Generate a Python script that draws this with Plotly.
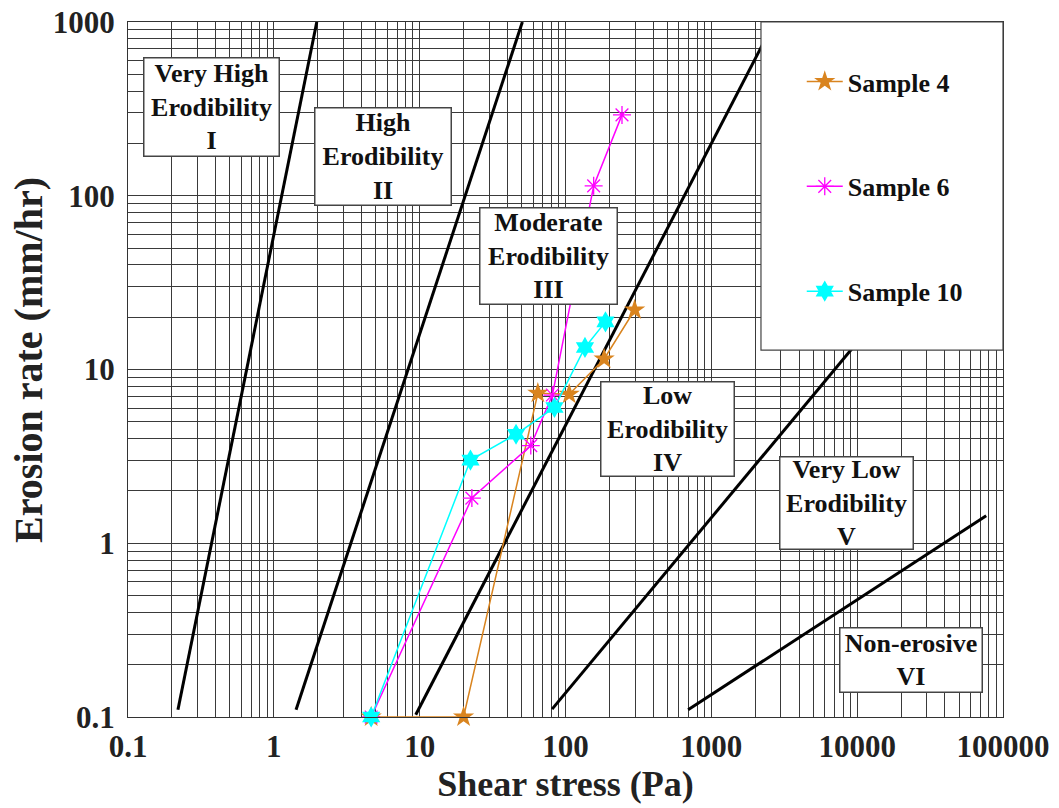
import plotly.graph_objects as go

# ---- data ----
tick_vals_x = [0.1, 1, 10, 100, 1000, 10000, 100000]
tick_text_x = ["0.1", "1", "10", "100", "1000", "10000", "100000"]
tick_vals_y = [0.1, 1, 10, 100, 1000]
tick_text_y = ["0.1", "1", "10", "100", "1000"]

# erodibility category boundaries (shear stress Pa, erosion rate mm/hr)
bound_I_x = [0.22, 1.97]
bound_I_y = [0.11, 1000]
bound_II_x = [1.42, 50.6]
bound_II_y = [0.11, 1000]
bound_III_x = [9.4, 2700]
bound_III_y = [0.103, 1000]
bound_IV_x = [80.9, 40000]
bound_IV_y = [0.111, 58]
bound_V_x = [693, 76700]
bound_V_y = [0.11, 1.44]

s4_x = [4.65, 20, 64.6, 106, 184, 298]
s4_y = [0.1, 0.1, 7.3, 7.2, 11.5, 22]
s6_x = [4.65, 22.8, 57.8, 81.3, 156, 244]
s6_y = [0.1, 1.82, 3.65, 7.13, 114, 292]
s10_x = [4.65, 22.3, 45.8, 84, 136, 188]
s10_y = [0.1, 3.01, 4.24, 6.05, 13.4, 18.8]

zone_labels = ["Very High<br>Erodibility<br>I", "High<br>Erodibility<br>II",
               "Moderate<br>Erodibility<br>III", "Low<br>Erodibility<br>IV",
               "Very Low<br>Erodibility<br>V", "Non-erosive<br>VI"]

FONT = "Liberation Serif"
GRID = "#3a3a3a"

fig = go.Figure()

for bx, by in [(bound_I_x, bound_I_y), (bound_II_x, bound_II_y), (bound_III_x, bound_III_y),
               (bound_IV_x, bound_IV_y), (bound_V_x, bound_V_y)]:
    fig.add_trace(go.Scatter(x=bx, y=by, mode="lines", line=dict(color="black", width=3),
                             showlegend=False, hoverinfo="skip"))

fig.add_trace(go.Scatter(x=s4_x, y=s4_y, name="Sample 4", mode="lines+markers", legendgroup="a",
                         line=dict(color="#D9841F", width=1.5), cliponaxis=False,
                         marker=dict(symbol="star", size=16, color="#D9841F")))
fig.add_trace(go.Scatter(x=s6_x, y=s6_y, name="Sample 6", mode="lines+markers", legendgroup="b",
                         line=dict(color="#FF00FF", width=1.5), cliponaxis=False,
                         marker=dict(symbol="asterisk-open", size=15, color="#FF00FF",
                                     line=dict(color="#FF00FF", width=1.3))))
fig.add_trace(go.Scatter(x=s10_x, y=s10_y, name="Sample 10", mode="lines+markers", legendgroup="c",
                         line=dict(color="#00FFFF", width=1.5), cliponaxis=False,
                         marker=dict(symbol="hexagram", size=16, color="#00FFFF")))

# zone label boxes: (paper x center, paper y center, width, height)
box_specs = [(0.0949, 0.877, 132, 95), (0.2909, 0.8058, 133, 94), (0.4800, 0.664, 134, 93),
             (0.6160, 0.415, 130, 91), (0.8206, 0.3086, 130, 89), (0.8943, 0.0813, 139, 61)]
for txt, (px, py, w, h) in zip(zone_labels, box_specs):
    fig.add_annotation(x=px, y=py, xref="paper", yref="paper", text=txt, showarrow=False,
                       xanchor="center", yanchor="middle", width=w, height=h, align="center",
                       valign="middle", bgcolor="white", bordercolor="#444", borderwidth=1.5,
                       borderpad=1, font=dict(family=FONT, size=26, color="#111", weight="bold"))

# y axis title (placed as rotated text)
fig.add_annotation(x=-0.113, y=0.514, xref="paper", yref="paper", text="Erosion rate (mm/hr)",
                   textangle=-90, showarrow=False, xanchor="center", yanchor="middle",
                   font=dict(family=FONT, size=40, color="#222", weight="bold"))

# legend panel
fig.add_shape(type="rect", xref="paper", yref="paper", x0=0.7234, x1=1.0, y0=0.528, y1=1.0,
              fillcolor="white", line=dict(color="#444", width=1.2), layer="above")

axis_common = dict(type="log", showgrid=True, gridcolor=GRID, gridwidth=1, showline=True,
                   linecolor="#333", linewidth=1.2, mirror=True, ticks="", zeroline=False,
                   tickfont=dict(family=FONT, size=31, color="#222", weight="bold"),
                   minor=dict(showgrid=True, gridcolor=GRID, gridwidth=1, dtick="D1", ticks=""))

fig.update_xaxes(range=[-1, 5], tickvals=tick_vals_x, ticktext=tick_text_x, ticklabelstandoff=2,
                 title=dict(text="Shear stress (Pa)", standoff=4,
                            font=dict(family=FONT, size=36, color="#222", weight="bold")),
                 **axis_common)
fig.update_yaxes(range=[-1, 3], tickvals=tick_vals_y, ticktext=tick_text_y, ticklabelstandoff=6,
                 **axis_common)

fig.update_layout(
    width=1059, height=808, margin=dict(l=128, r=56, t=22, b=91, autoexpand=False),
    paper_bgcolor="white", plot_bgcolor="white",
    legend=dict(x=0.770, y=0.948, xanchor="left", yanchor="top", bgcolor="rgba(0,0,0,0)",
                borderwidth=0, tracegroupgap=68, traceorder="grouped", itemwidth=36,
                font=dict(family=FONT, size=26, color="#111", weight="bold")),
)

fig.write_html("out.html")
